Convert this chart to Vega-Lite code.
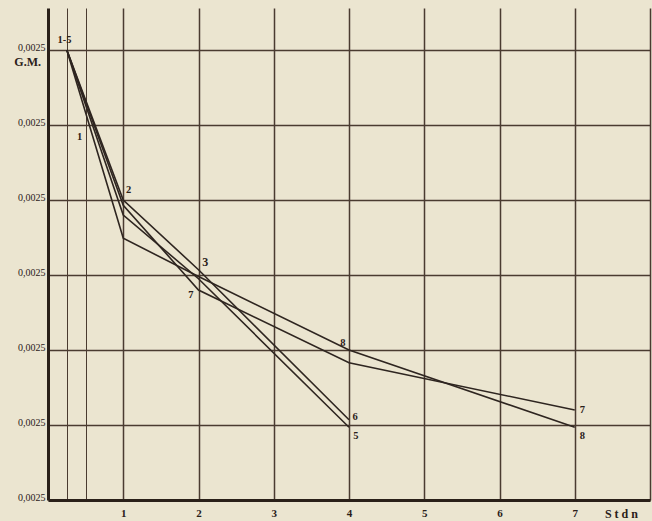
{
  "$schema": "https://vega.github.io/schema/vega-lite/v6.json",
  "width": 602,
  "height": 492,
  "autosize": {"type": "none"},
  "padding": {"left": 48, "top": 8, "right": 2, "bottom": 21},
  "background": "#ebe5d0",
  "config": {"view": {"stroke": null}, "font": "Liberation Serif"},
  "datasets": {
    "curves": [
      {"curve": "6", "t": 0.25, "v": 6.0},
      {"curve": "6", "t": 1, "v": 4.0},
      {"curve": "6", "t": 2, "v": 3.07},
      {"curve": "6", "t": 4, "v": 1.07},
      {"curve": "5", "t": 0.25, "v": 6.0},
      {"curve": "5", "t": 1, "v": 3.8},
      {"curve": "5", "t": 2, "v": 2.95},
      {"curve": "5", "t": 4, "v": 0.97},
      {"curve": "8", "t": 0.25, "v": 6.0},
      {"curve": "8", "t": 1, "v": 3.49},
      {"curve": "8", "t": 2, "v": 2.98},
      {"curve": "8", "t": 4, "v": 2.0},
      {"curve": "8", "t": 7, "v": 0.97},
      {"curve": "7", "t": 0.25, "v": 6.0},
      {"curve": "7", "t": 1, "v": 3.93},
      {"curve": "7", "t": 2, "v": 2.8},
      {"curve": "7", "t": 4, "v": 1.83},
      {"curve": "7", "t": 7, "v": 1.2}
    ],
    "labels": [
      {"label": "1-5", "t": 0.22, "v": 6.13},
      {"label": "G.M.", "t": -0.27, "v": 5.84},
      {"label": "1", "t": 0.42, "v": 4.84},
      {"label": "2", "t": 1.07, "v": 4.14},
      {"label": "3", "t": 2.09, "v": 3.17},
      {"label": "7", "t": 1.9, "v": 2.73},
      {"label": "8", "t": 3.92, "v": 2.1},
      {"label": "6", "t": 4.08, "v": 1.11},
      {"label": "5", "t": 4.09, "v": 0.86},
      {"label": "7", "t": 7.1, "v": 1.2},
      {"label": "8", "t": 7.1, "v": 0.86},
      {"label": "S t d n", "t": 7.62, "v": -0.19}
    ]
  },
  "layer": [
    {
      "data": {"name": "curves"},
      "mark": {"type": "line", "color": "#2e2520", "strokeWidth": 1.6},
      "encoding": {
        "x": {
          "field": "t", "type": "quantitative",
          "scale": {"domain": [0, 8], "nice": false, "zero": false},
          "axis": {
            "title": null,
            "values": [0.25, 0.5, 1, 2, 3, 4, 5, 6, 7, 8],
            "labelExpr": "datum.value >= 1 && datum.value <= 7 ? format(datum.value, 'd') : ''",
            "grid": true,
            "gridColor": "#4a3b30",
            "gridOpacity": 1,
            "gridWidth": {"condition": {"test": "datum.value < 1", "value": 1}, "value": 1.5},
            "domainColor": "#2a2019",
            "domainWidth": 3,
            "ticks": false,
            "labelPadding": 7,
            "labelFontSize": 11,
            "labelFontWeight": "bold",
            "labelColor": "#2a2019",
            "labelFont": "Liberation Serif"
          }
        },
        "y": {
          "field": "v", "type": "quantitative",
          "scale": {"domain": [0, 6.56], "nice": false, "zero": false},
          "axis": {
            "title": null,
            "values": [0, 1, 2, 3, 4, 5, 6],
            "labelExpr": "'0,0025'",
            "grid": true,
            "gridColor": "#4a3b30",
            "gridOpacity": 1,
            "gridWidth": 1.5,
            "domainColor": "#2a2019",
            "domainWidth": 3,
            "ticks": false,
            "labelBaseline": "alphabetic",
            "labelPadding": 3,
            "labelFontSize": 10,
            "labelColor": "#2a2019",
            "labelFont": "Liberation Serif"
          }
        },
        "detail": {"field": "curve"}
      }
    },
    {
      "data": {"name": "labels"},
      "mark": {"type": "text", "color": "#2a2019", "font": "Liberation Serif", "fontWeight": "bold", "baseline": "middle", "align": "center"},
      "encoding": {
        "x": {"field": "t", "type": "quantitative"},
        "y": {"field": "v", "type": "quantitative"},
        "text": {"field": "label"},
        "size": {"condition": {"test": "datum.label === '3' || datum.label === 'S t d n' || datum.label === 'G.M.'", "value": 12}, "value": 10.5}
      }
    }
  ]
}
